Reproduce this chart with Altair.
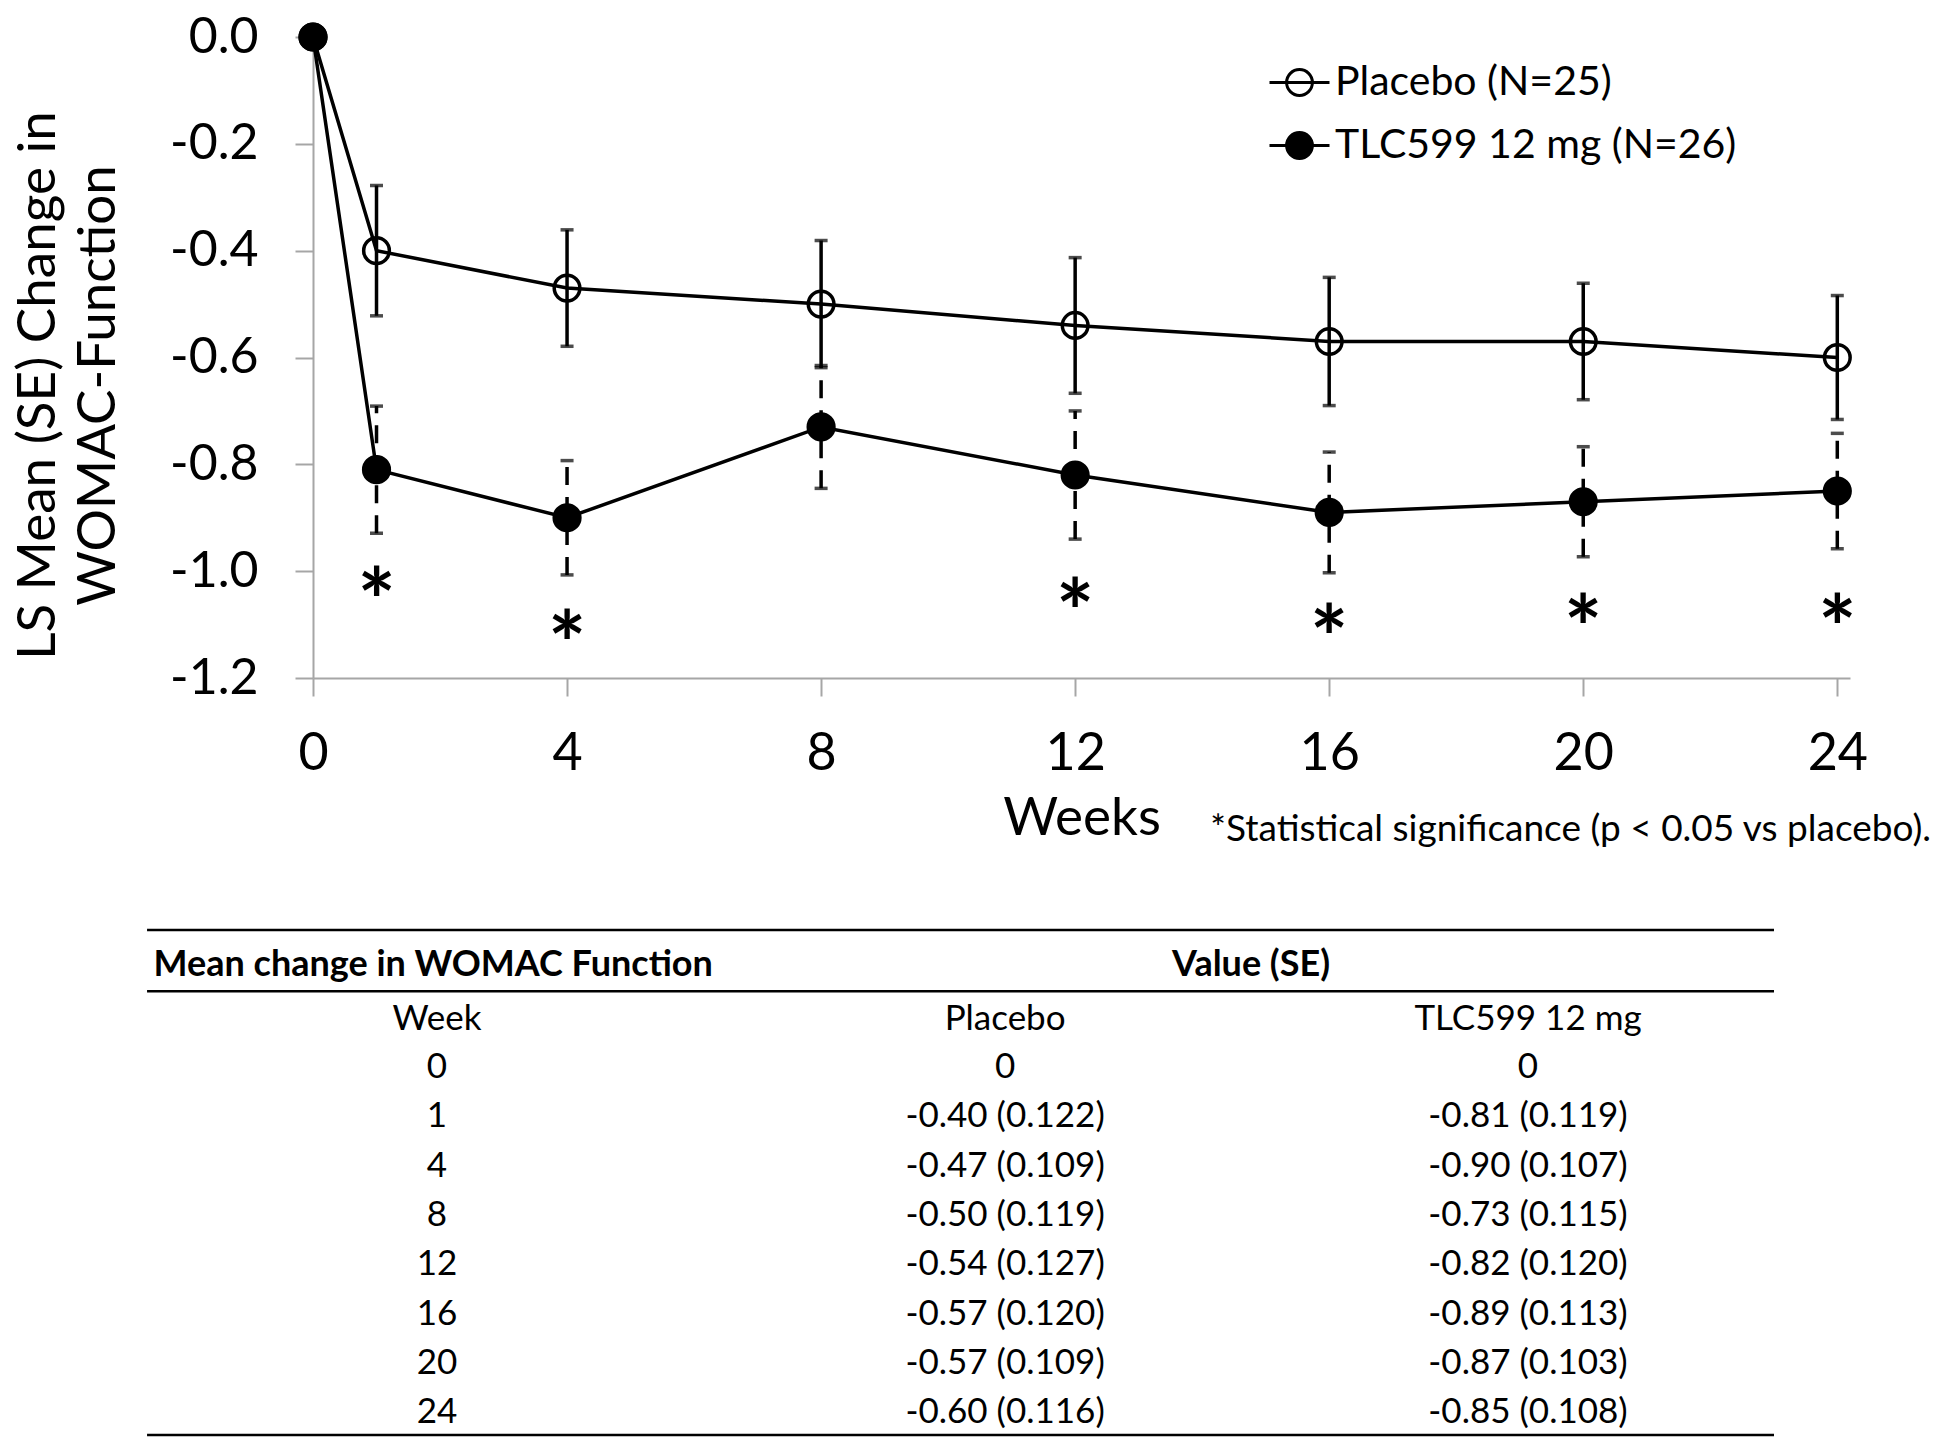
import altair as alt
import pandas as pd

# ---------------- data ----------------
weeks = [0, 1, 4, 8, 12, 16, 20, 24]
placebo_mean = [0, -0.40, -0.47, -0.50, -0.54, -0.57, -0.57, -0.60]
placebo_se = [0, 0.122, 0.109, 0.119, 0.127, 0.120, 0.109, 0.116]
tlc_mean = [0, -0.81, -0.90, -0.73, -0.82, -0.89, -0.87, -0.85]
tlc_se = [0, 0.119, 0.107, 0.115, 0.120, 0.113, 0.103, 0.108]
series_names = ["Placebo (N=25)", "TLC599 12 mg (N=26)"]
sig_weeks = [1, 4, 12, 16, 20, 24]
sig_star_y = [-1.02, -1.10, -1.04, -1.09, -1.07, -1.07]
x_ticks = [0, 4, 8, 12, 16, 20, 24]
y_ticks = [0.0, -0.2, -0.4, -0.6, -0.8, -1.0, -1.2]

table_header = "Mean change in WOMAC Function"
table_value_header = "Value (SE)"
table_col_headers = ["Week", "Placebo", "TLC599 12 mg"]
footnote = "*Statistical significance (p < 0.05 vs placebo)."

FONT = "Lato"

# ---------------- long tables ----------------
rows = []
for name, means, ses in [(series_names[0], placebo_mean, placebo_se),
                         (series_names[1], tlc_mean, tlc_se)]:
    for w, m, s in zip(weeks, means, ses):
        rows.append({"series": name, "week": w, "mean": m, "se": s,
                     "lo": m - s, "hi": m + s})
df = pd.DataFrame(rows)
df_err = df[df["se"] > 0]
df_stars = pd.DataFrame({"week": sig_weeks, "y": sig_star_y})

PLOT_W, PLOT_H = 1537, 641

xscale = alt.Scale(domain=[0, 24.2], nice=False, zero=False)
yscale = alt.Scale(domain=[-1.2, 0], nice=False, zero=False)

X = alt.X("week:Q", scale=xscale,
          axis=alt.Axis(values=x_ticks, format="d", tickSize=18, labelPadding=32,
                        labelFontSize=52, labelFlush=False, labelOverlap=False,
                        title="Weeks", titleFontSize=53, titlePadding=13, grid=False))
Yaxis = alt.Axis(values=y_ticks,
                 labelExpr="replace(format(datum.value, '.1f'), '\u2212', '-')",
                 tickSize=18, labelPadding=37, labelFontSize=50, labelOverlap=False,
                 title=["LS Mean (SE) Change in", "WOMAC-Function"],
                 titleFontSize=53, titleLineHeight=60, titlePadding=44, titleY=348,
                 grid=False)

base = alt.Chart(df)

lines = base.mark_line(color="black", strokeWidth=3.5).encode(
    x=X, y=alt.Y("mean:Q", scale=yscale, axis=Yaxis), detail="series:N")

err_p = alt.Chart(df_err).transform_filter(
    alt.datum.series == series_names[0]).mark_rule(color="black", strokeWidth=3.5).encode(
    x="week:Q", y="lo:Q", y2="hi:Q")
err_t = alt.Chart(df_err).transform_filter(
    alt.datum.series == series_names[1]).mark_rule(
    color="black", strokeWidth=3.5, strokeDash=[18, 12]).encode(
    x="week:Q", y="lo:Q", y2="hi:Q")

cap_lo = alt.Chart(df_err).mark_tick(color="black", orient="horizontal", size=13,
                                     thickness=3.5).encode(x="week:Q", y="lo:Q")
cap_hi = alt.Chart(df_err).mark_tick(color="black", orient="horizontal", size=13,
                                     thickness=3.5).encode(x="week:Q", y="hi:Q")

legend_path = ("M-1,0L1,0M-0.43,0A0.43,0.43,0,1,0,0.43,0"
               "A0.43,0.43,0,1,0,-0.43,0Z")

points = base.mark_point(filled=True, size=660, stroke="black", strokeWidth=3.5,
                         opacity=1).encode(
    x="week:Q", y="mean:Q",
    fill=alt.Fill("series:N",
                  scale=alt.Scale(domain=series_names, range=["transparent", "black"]),
                  legend=alt.Legend(title=None, orient="none", legendX=955, legendY=14,
                                    symbolType=legend_path, symbolSize=3600,
                                    symbolStrokeWidth=3, symbolStrokeColor="black",
                                    labelFont=FONT, labelFontSize=41, labelColor="black",
                                    labelOffset=4, rowPadding=11, padding=0,
                                    labelLimit=1000)))

stars = alt.Chart(df_stars).mark_text(text="*", fontSize=90, fontWeight="bold",
                                      font=FONT, color="black", dy=25).encode(
    x="week:Q", y="y:Q")

top = alt.layer(lines, err_p, err_t, cap_lo, cap_hi, points, stars).properties(
    width=PLOT_W, height=PLOT_H,
    title=alt.TitleParams(text=footnote, orient="bottom", anchor="end", frame="group",
                          fontSize=37, font=FONT, fontWeight="normal", color="black",
                          dx=81, dy=-33, offset=0))

# ---------------- table panel ----------------
# table x positions are fractions of the table width; the panel origin sits
# under the plot origin, so the scale domain starts inside the table.
tx = alt.Scale(domain=[0.102, 1], nice=False, zero=False)
ty = alt.Scale(domain=[-0.70, 9.54], nice=False, zero=False, reverse=True)

rules_df = pd.DataFrame({"x0": [0, 0, 0], "x1": [1, 1, 1], "y": [-0.70, 0.54, 9.54]})
rules = alt.Chart(rules_df).mark_rule(color="black", strokeWidth=2.5).encode(
    x=alt.X("x0:Q", scale=tx, axis=None), x2="x1:Q",
    y=alt.Y("y:Q", scale=ty, axis=None))

hdr_left = alt.Chart(pd.DataFrame({"t": [table_header], "x": [0.004], "y": [0]})).mark_text(
    align="left", baseline="middle", font=FONT, fontSize=36, fontWeight="bold",
    color="black").encode(x=alt.X("x:Q", scale=tx, axis=None),
                          y=alt.Y("y:Q", scale=ty, axis=None), text="t:N")
hdr_mid = alt.Chart(pd.DataFrame({"t": [table_value_header], "x": [0.6786], "y": [0]})).mark_text(
    align="center", baseline="middle", font=FONT, fontSize=36, fontWeight="bold",
    color="black").encode(x=alt.X("x:Q", scale=tx, axis=None),
                          y=alt.Y("y:Q", scale=ty, axis=None), text="t:N")

col_x = [0.1782, 0.5274, 0.8488]
cells = []
for c, h in enumerate(table_col_headers):
    cells.append({"x": col_x[c], "y": 1.11, "t": h})


def fmt(m, s):
    if s == 0:
        return "0"
    return f"{m:.2f} ({s:.3f})"


for i, w in enumerate(weeks):
    yy = 2.08 + i
    cells.append({"x": col_x[0], "y": yy, "t": str(w)})
    cells.append({"x": col_x[1], "y": yy, "t": fmt(placebo_mean[i], placebo_se[i])})
    cells.append({"x": col_x[2], "y": yy, "t": fmt(tlc_mean[i], tlc_se[i])})

cell_text = alt.Chart(pd.DataFrame(cells)).mark_text(
    align="center", baseline="middle", font=FONT, fontSize=35, color="black").encode(
    x=alt.X("x:Q", scale=tx, axis=None), y=alt.Y("y:Q", scale=ty, axis=None), text="t:N")

table = alt.layer(rules, hdr_left, hdr_mid, cell_text).properties(width=1461, height=505)

chart = alt.vconcat(top, table, spacing=80).properties(
    padding={"top": 4, "left": 4, "right": 0, "bottom": 0}).configure_view(
    stroke=None).configure_axis(
    domainColor="#a6a6a6", tickColor="#a6a6a6", domainWidth=2, tickWidth=2,
    labelFont=FONT, labelColor="black", titleFont=FONT, titleColor="black",
    titleFontWeight="normal")

chart.save("out.html", embed_options={"renderer": "svg", "actions": False})
